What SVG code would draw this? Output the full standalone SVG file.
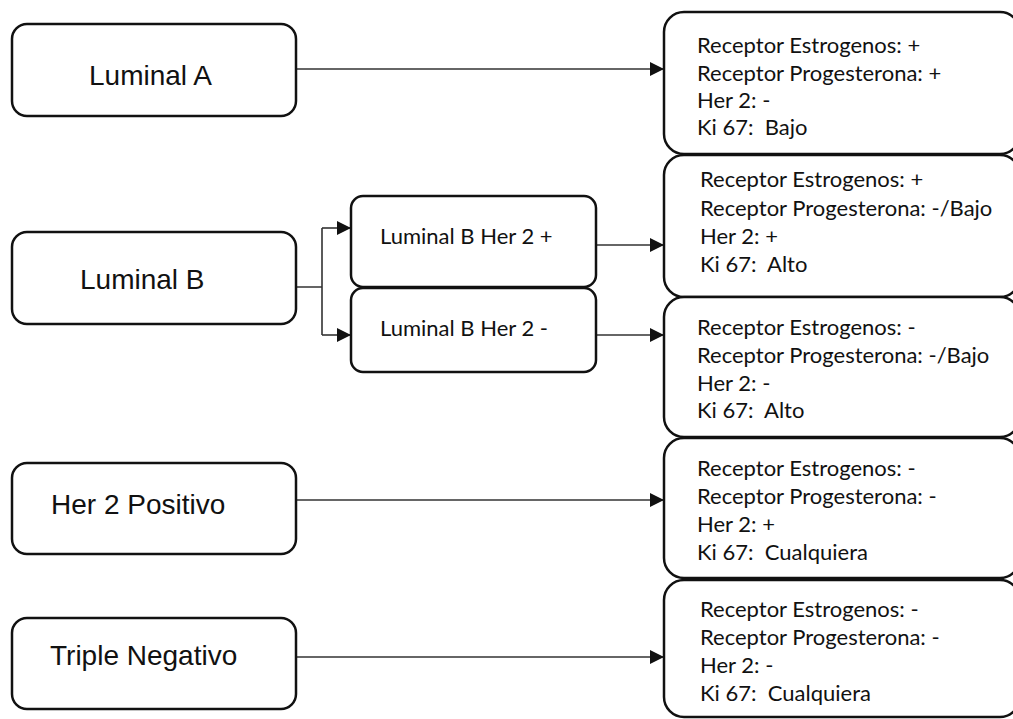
<svg xmlns="http://www.w3.org/2000/svg" width="1013" height="719" viewBox="0 0 1013 719">
<style>
.box{fill:#fff;stroke:#111;stroke-width:2.5}
.big{font-family:"Liberation Sans",Arial,sans-serif;font-size:28px;fill:#111}
.cal{font-family:Lato,"Liberation Sans",sans-serif;font-size:22px;fill:#111}
.con{fill:none;stroke:#333;stroke-width:1.6}
</style>
<defs>
<marker id="arr" markerUnits="userSpaceOnUse" markerWidth="14" markerHeight="14" refX="14" refY="7" orient="auto">
<path d="M0,0 L14,7 L0,14 Z" fill="#111"/>
</marker>
</defs>
<rect width="1013" height="719" fill="#fff"/>
<g id="connectors">
<path class="con" d="M296,69 H664" marker-end="url(#arr)"/>
<path class="con" d="M296,287 H322 M322,228 V335"/>
<path class="con" d="M322,228 H351" marker-end="url(#arr)"/>
<path class="con" d="M322,335 H351" marker-end="url(#arr)"/>
<path class="con" d="M596,245 H664" marker-end="url(#arr)"/>
<path class="con" d="M596,335 H664" marker-end="url(#arr)"/>
<path class="con" d="M296,500 H664" marker-end="url(#arr)"/>
<path class="con" d="M296,657 H664" marker-end="url(#arr)"/>
</g>
<g id="luminal-a"><rect class="box" x="12" y="24" width="284" height="92" rx="15"/><text class="big" x="89" y="85">Luminal A</text></g>
<g id="luminal-b"><rect class="box" x="12" y="232" width="284" height="92" rx="15"/><text class="big" x="80" y="289">Luminal B</text></g>
<g id="her2-positivo"><rect class="box" x="12" y="463" width="284" height="91" rx="15"/><text class="big" x="51" y="514">Her 2 Positivo</text></g>
<g id="triple-negativo"><rect class="box" x="12" y="618" width="284" height="91" rx="15"/><text class="big" x="50" y="665">Triple Negativo</text></g>
<g id="luminal-b-her2-pos"><rect class="box" x="351" y="196" width="245" height="91" rx="12"/><text class="cal" x="380" y="244">Luminal B Her 2 +</text></g>
<g id="luminal-b-her2-neg"><rect class="box" x="351" y="288" width="245" height="84" rx="12"/><text class="cal" x="380" y="336">Luminal B Her 2 -</text></g>
<g id="perfil-1"><rect class="box" x="664" y="12" width="356" height="142" rx="20"/>
<text class="cal" x="697" y="53">Receptor Estrogenos: +</text>
<text class="cal" x="697" y="81">Receptor Progesterona: +</text>
<text class="cal" x="697" y="108">Her 2: -</text>
<text class="cal" x="697" y="135" xml:space="preserve">Ki 67:  Bajo</text></g>
<g id="perfil-2"><rect class="box" x="664" y="155" width="356" height="142" rx="20"/>
<text class="cal" x="700" y="187">Receptor Estrogenos: +</text>
<text class="cal" x="700" y="216">Receptor Progesterona: -/Bajo</text>
<text class="cal" x="700" y="244">Her 2: +</text>
<text class="cal" x="700" y="272" xml:space="preserve">Ki 67:  Alto</text></g>
<g id="perfil-3"><rect class="box" x="664" y="297" width="356" height="140" rx="20"/>
<text class="cal" x="697" y="335">Receptor Estrogenos: -</text>
<text class="cal" x="697" y="363">Receptor Progesterona: -/Bajo</text>
<text class="cal" x="697" y="391">Her 2: -</text>
<text class="cal" x="697" y="418" xml:space="preserve">Ki 67:  Alto</text></g>
<g id="perfil-4"><rect class="box" x="664" y="438" width="356" height="140" rx="20"/>
<text class="cal" x="697" y="476">Receptor Estrogenos: -</text>
<text class="cal" x="697" y="504">Receptor Progesterona: -</text>
<text class="cal" x="697" y="532">Her 2: +</text>
<text class="cal" x="697" y="560" xml:space="preserve">Ki 67:  Cualquiera</text></g>
<g id="perfil-5"><rect class="box" x="664" y="580" width="356" height="137" rx="20"/>
<text class="cal" x="700" y="617">Receptor Estrogenos: -</text>
<text class="cal" x="700" y="645">Receptor Progesterona: -</text>
<text class="cal" x="700" y="673">Her 2: -</text>
<text class="cal" x="700" y="701" xml:space="preserve">Ki 67:  Cualquiera</text></g>
</svg>
